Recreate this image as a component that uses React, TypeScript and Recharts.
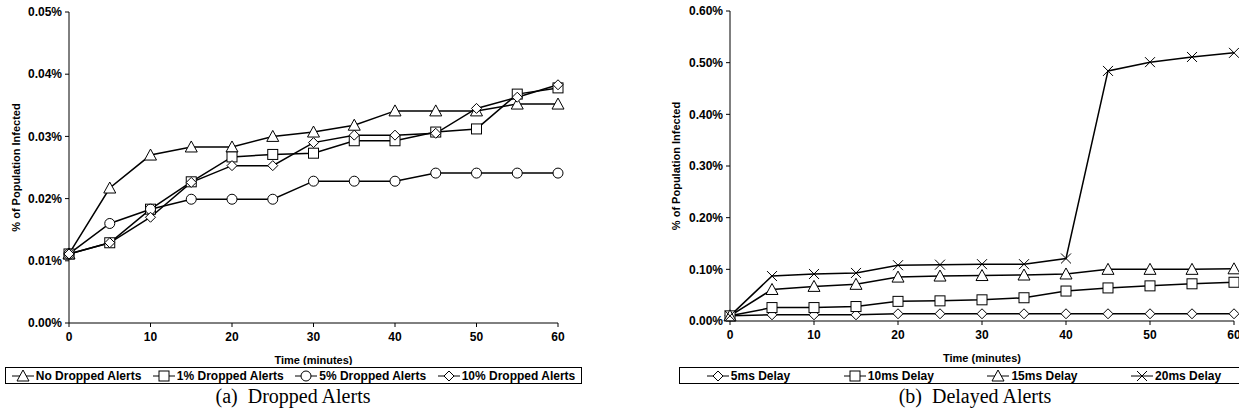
import React from "react";
import { LineChart, Line, XAxis, YAxis } from "recharts";

// time in minutes
const minutes = [0, 5, 10, 15, 20, 25, 30, 35, 40, 45, 50, 55, 60];

// (a) dropped alerts, % of population infected
const noDropped = [0.0111, 0.0217, 0.027, 0.0283, 0.0283, 0.03, 0.0307, 0.0318, 0.0341, 0.0341, 0.0341, 0.0352, 0.0352];
const dropped1 = [0.0111, 0.0129, 0.0183, 0.0227, 0.0267, 0.0271, 0.0273, 0.0293, 0.0293, 0.0307, 0.0312, 0.0368, 0.0378];
const dropped5 = [0.0111, 0.016, 0.0183, 0.0199, 0.0199, 0.0199, 0.0228, 0.0228, 0.0228, 0.0241, 0.0241, 0.0241, 0.0241];
const dropped10 = [0.0111, 0.0129, 0.017, 0.0226, 0.0253, 0.0253, 0.029, 0.0302, 0.0302, 0.0305, 0.0345, 0.0363, 0.0383];

// (b) delayed alerts
const delay5 = [0.01, 0.012, 0.012, 0.012, 0.014, 0.014, 0.014, 0.014, 0.014, 0.014, 0.014, 0.014, 0.014];
const delay10 = [0.01, 0.026, 0.026, 0.028, 0.038, 0.039, 0.041, 0.045, 0.058, 0.064, 0.068, 0.072, 0.075];
const delay15 = [0.01, 0.061, 0.067, 0.071, 0.085, 0.087, 0.088, 0.089, 0.091, 0.1, 0.1, 0.1, 0.101];
const delay20 = [0.01, 0.087, 0.091, 0.093, 0.108, 0.109, 0.11, 0.11, 0.121, 0.484, 0.501, 0.511, 0.519];

const xTicks = [0, 10, 20, 30, 40, 50, 60];
const ticksA = [0, 0.01, 0.02, 0.03, 0.04, 0.05];
const ticksB = [0, 0.1, 0.2, 0.3, 0.4, 0.5, 0.6];

const dataA = minutes.map((t, i) => ({ t, a: noDropped[i], b: dropped1[i], c: dropped5[i], d: dropped10[i] }));
const dataB = minutes.map((t, i) => ({ t, a: delay5[i], b: delay10[i], c: delay15[i], d: delay20[i] }));

const FONT = "'Liberation Sans', Arial, sans-serif";
const tickStyle = { fontSize: 12, fontWeight: 700, fill: "#000", fontFamily: FONT };

function Marker({ cx, cy, shape }: { cx: number; cy: number; shape: string }) {
  const p = { fill: "#fff", stroke: "#000", strokeWidth: 1 };
  if (shape === "triangle")
    return <polygon points={`${cx},${cy - 6} ${cx - 6},${cy + 5} ${cx + 6},${cy + 5}`} {...p} />;
  if (shape === "square") return <rect x={cx - 5} y={cy - 5} width={10} height={10} {...p} />;
  if (shape === "circle") return <circle cx={cx} cy={cy} r={5} {...p} />;
  if (shape === "diamond")
    return <polygon points={`${cx},${cy - 5} ${cx + 5},${cy} ${cx},${cy + 5} ${cx - 5},${cy}`} {...p} />;
  return (
    <path d={`M${cx - 5},${cy - 5}L${cx + 5},${cy + 5}M${cx - 5},${cy + 5}L${cx + 5},${cy - 5}`} stroke="#000" strokeWidth={1} fill="none" />
  );
}

const dotFor = (shape: string) => (props: any) =>
  <Marker key={`${shape}-${props.index}`} cx={props.cx} cy={props.cy} shape={shape} />;

const yLabel = (dx: number) => (props: any) => {
  const vb = props.viewBox;
  const x = vb.x + dx;
  const y = vb.y + vb.height / 2;
  return (
    <text x={x} y={y} transform={`rotate(-90, ${x}, ${y})`} textAnchor="middle" dominantBaseline="central"
      style={{ fontSize: 11, fontWeight: 700, fontFamily: FONT }} fill="#000">
      % of Population Infected
    </text>
  );
};

function LegendIcon({ shape }: { shape: string }) {
  return (
    <svg width={22} height={12} style={{ marginRight: 2 }}>
      <line x1={0} y1={6} x2={22} y2={6} stroke="#000" strokeWidth={1} />
      <Marker cx={11} cy={6} shape={shape} />
    </svg>
  );
}

function Legend({ items, style }: { items: { name: string; shape: string }[]; style: React.CSSProperties }) {
  return (
    <div style={{ position: "absolute", border: "1px solid #000", display: "flex", alignItems: "center", boxSizing: "border-box",
      fontFamily: FONT, fontSize: 12, fontWeight: 700, height: 17, ...style }}>
      {items.map(it => (
        <div key={it.name} style={{ display: "flex", alignItems: "center", whiteSpace: "nowrap" }}>
          <LegendIcon shape={it.shape} />
          {it.name}
        </div>
      ))}
    </div>
  );
}

const seriesA = [
  { key: "a", name: "No Dropped Alerts", shape: "triangle" },
  { key: "b", name: "1% Dropped Alerts", shape: "square" },
  { key: "c", name: "5% Dropped Alerts", shape: "circle" },
  { key: "d", name: "10% Dropped Alerts", shape: "diamond" },
];
const seriesB = [
  { key: "a", name: "5ms Delay", shape: "diamond" },
  { key: "b", name: "10ms Delay", shape: "square" },
  { key: "c", name: "15ms Delay", shape: "triangle" },
  { key: "d", name: "20ms Delay", shape: "x" },
];

const captionStyle: React.CSSProperties = {
  position: "absolute", top: 385, fontFamily: "'Liberation Serif', 'Times New Roman', serif", fontSize: 20, textAlign: "center",
  whiteSpace: "pre",
};

export default function App() {
  return (
    <div style={{ position: "fixed", left: 0, top: 0, width: 1239, height: 413, background: "#fff", overflow: "hidden" }}>
      <div style={{ position: "absolute", left: 0, top: 0 }}>
        <LineChart width={600} height={365} data={dataA} margin={{ top: 12, right: 42, left: 0, bottom: 0 }}>
          <XAxis dataKey="t" type="number" domain={[0, 60]} ticks={xTicks} height={42} tick={tickStyle}
            tickSize={4} tickMargin={5} stroke="#000"
            label={{ value: "Time (minutes)", position: "insideBottom", offset: 1, style: { ...tickStyle, fontSize: 11 } }} />
          <YAxis type="number" domain={[0, 0.05]} ticks={ticksA} width={69} tick={tickStyle} tickSize={4} tickMargin={3}
            stroke="#000" tickFormatter={(v: number) => `${v.toFixed(2)}%`} label={{ content: yLabel(16) }} />
          {seriesA.map(s => (
            <Line key={s.key} dataKey={s.key} stroke="#000" strokeWidth={1.5} dot={dotFor(s.shape)} isAnimationActive={false} />
          ))}
        </LineChart>
      </div>
      <Legend items={seriesA} style={{ left: 5, top: 367, width: 577, justifyContent: "space-around" }} />
      <div style={{ ...captionStyle, left: 0, width: 586 }}>(a)  Dropped Alerts</div>

      <div style={{ position: "absolute", left: 640, top: 0 }}>
        <LineChart width={600} height={365} data={dataB} margin={{ top: 11, right: 6, left: 0, bottom: 0 }}>
          <XAxis dataKey="t" type="number" domain={[0, 60]} ticks={xTicks} height={44} tick={tickStyle}
            tickSize={4} tickMargin={5} stroke="#000"
            label={{ value: "Time (minutes)", position: "insideBottom", offset: 3, style: { ...tickStyle, fontSize: 11 } }} />
          <YAxis type="number" domain={[0, 0.6]} ticks={ticksB} width={90} tick={tickStyle} tickSize={4} tickMargin={3}
            stroke="#000" tickFormatter={(v: number) => `${v.toFixed(2)}%`} label={{ content: yLabel(36) }} />
          {seriesB.map(s => (
            <Line key={s.key} dataKey={s.key} stroke="#000" strokeWidth={1.5} dot={dotFor(s.shape)} isAnimationActive={false} />
          ))}
        </LineChart>
      </div>
      <Legend items={seriesB} style={{ left: 679, top: 367, width: 570, justifyContent: "space-around" }} />
      <div style={{ ...captionStyle, left: 679, width: 592 }}>(b)  Delayed Alerts</div>
    </div>
  );
}
